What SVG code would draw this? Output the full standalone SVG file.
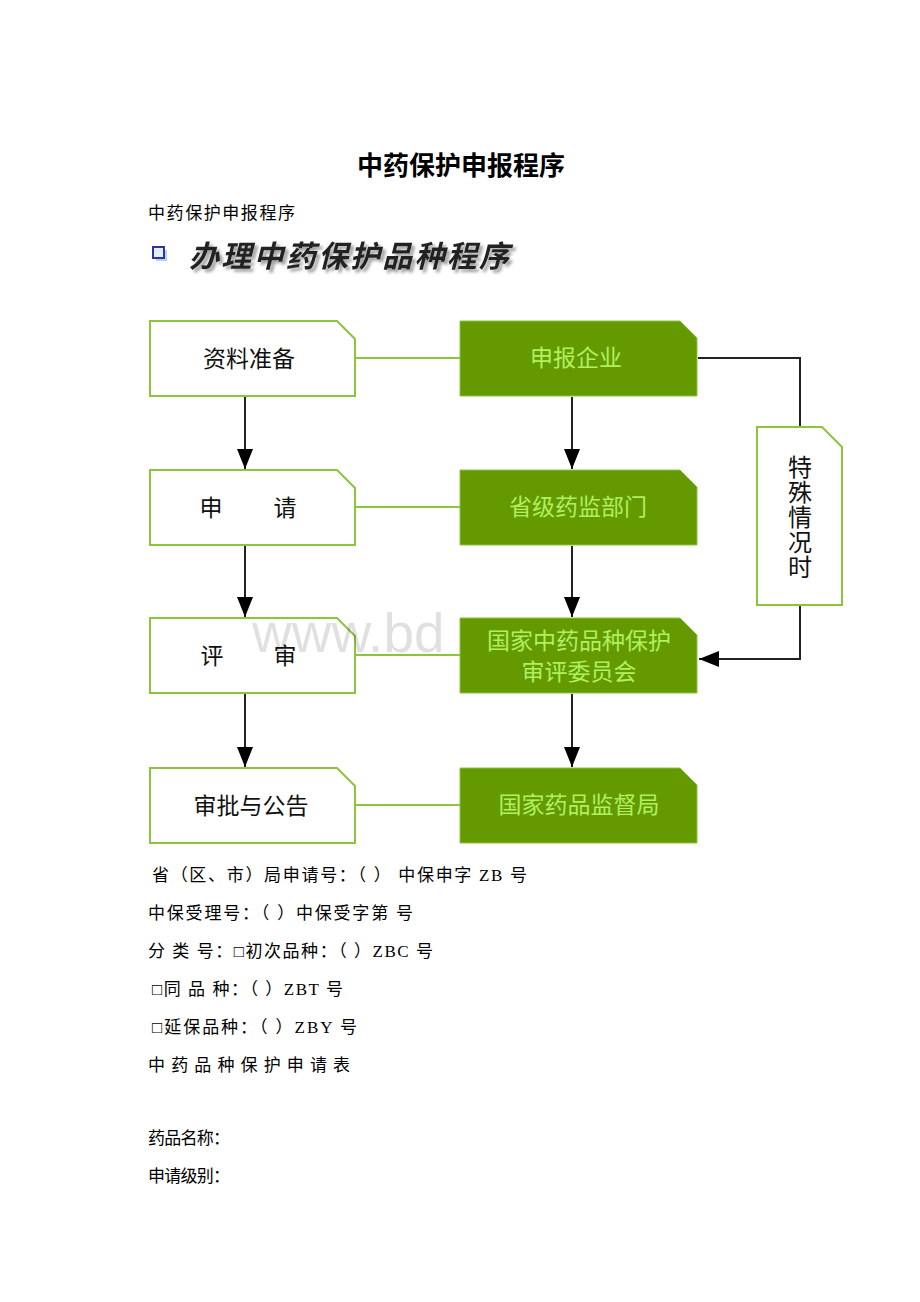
<svg xmlns="http://www.w3.org/2000/svg" width="920" height="1302" viewBox="0 0 920 1302">
<defs>
<style>
.doc{font-family:"Liberation Serif","Noto Sans CJK SC",serif;font-size:17px;fill:#000}
.lbox{fill:#fff;stroke:#8cc43c;stroke-width:2}
.gbox{fill:#649a00;stroke:#8cc43c;stroke-width:1}
.lt{font-family:"Noto Sans CJK SC","Noto Sans CJK JP",sans-serif;font-size:23px;fill:#111;text-anchor:middle}
.gt{font-family:"Noto Sans CJK SC","Noto Sans CJK JP",sans-serif;font-size:23px;fill:#b0f060;text-anchor:middle}
.gl{stroke:#8cc43c;stroke-width:2;fill:none}
.bl{stroke:#222;stroke-width:2;fill:none}
</style>
<marker id="arr" markerUnits="userSpaceOnUse" markerWidth="20" markerHeight="16" refX="20" refY="8" orient="auto">
<path d="M0,0 L20,8 L0,16 Z" fill="#000"/>
</marker>
<filter id="shadow" x="-10%" y="-30%" width="120%" height="170%"><feDropShadow dx="3" dy="3" stdDeviation="1.8" flood-color="#888" flood-opacity="0.8"/></filter>
</defs>
<rect width="920" height="1302" fill="#fff"/>

<g id="title">
<text x="461" y="175" text-anchor="middle" style="font-family:'Noto Sans CJK SC',sans-serif;font-size:26px;font-weight:bold">中药保护申报程序</text>
</g>
<g id="subtitle">
<text x="148" y="219" class="doc" textLength="147">中药保护申报程序</text>
</g>
<g id="heading">
<rect x="156" y="250" width="11" height="11" fill="#a8d8f8"/>
<rect x="153" y="247" width="11" height="11" fill="#dff0ff" stroke="#3a2fa0" stroke-width="2"/>
<text x="189" y="267" filter="url(#shadow)" style="font-family:'Noto Sans CJK SC',sans-serif;font-size:30px;font-style:italic;font-weight:bold;fill:#222" textLength="320">办理中药保护品种程序</text>
</g>

<g id="connectors">
<line class="gl" x1="355" y1="358" x2="460" y2="358"/>
<line class="gl" x1="355" y1="507" x2="460" y2="507"/>
<line class="gl" x1="355" y1="655" x2="460" y2="655"/>
<line class="gl" x1="355" y1="805" x2="460" y2="805"/>
<line class="bl" x1="245" y1="397" x2="245" y2="469" marker-end="url(#arr)"/>
<line class="bl" x1="245" y1="546" x2="245" y2="617" marker-end="url(#arr)"/>
<line class="bl" x1="245" y1="694" x2="245" y2="767" marker-end="url(#arr)"/>
<line class="bl" x1="572" y1="397" x2="572" y2="469" marker-end="url(#arr)"/>
<line class="bl" x1="572" y1="546" x2="572" y2="617" marker-end="url(#arr)"/>
<line class="bl" x1="572" y1="694" x2="572" y2="767" marker-end="url(#arr)"/>
<polyline class="bl" points="698,358 800,358 800,427"/>
<polyline class="bl" points="800,605 800,659 699,659" marker-end="url(#arr)"/>
</g>

<g id="n-ziliao">
<path class="lbox" d="M150,321 H337 L355,339 V396 H150 Z"/>
<text class="lt" x="249" y="367">资料准备</text>
</g>
<g id="n-shenqing">
<path class="lbox" d="M150,470 H337 L355,488 V545 H150 Z"/>
<text class="lt" x="211" y="516">申</text>
<text class="lt" x="285" y="516">请</text>
</g>
<g id="n-pingshen">
<path class="lbox" d="M150,618 H337 L355,636 V693 H150 Z"/>
<text class="lt" x="212" y="664">评</text>
<text class="lt" x="285" y="664">审</text>
</g>
<g id="n-shenpi">
<path class="lbox" d="M150,768 H337 L355,786 V843 H150 Z"/>
<text class="lt" x="251" y="814">审批与公告</text>
</g>

<g id="watermark">
<text x="252" y="652" style="font-family:'Liberation Sans',sans-serif;font-size:55px;fill:#000;fill-opacity:0.12">www.bd</text>
</g>

<g id="n-qiye">
<path class="gbox" d="M460,321 H680 L697,338 V396 H460 Z"/>
<text class="gt" x="576" y="366">申报企业</text>
</g>
<g id="n-shengji">
<path class="gbox" d="M460,470 H680 L697,487 V545 H460 Z"/>
<text class="gt" x="578" y="515">省级药监部门</text>
</g>
<g id="n-weiyuanhui">
<path class="gbox" d="M460,618 H680 L697,635 V693 H460 Z"/>
<text class="gt" x="579" y="649">国家中药品种保护</text>
<text class="gt" x="579" y="680">审评委员会</text>
</g>
<g id="n-jianduju">
<path class="gbox" d="M460,768 H680 L697,785 V843 H460 Z"/>
<text class="gt" x="579" y="813">国家药品监督局</text>
</g>

<g id="n-teshu">
<path class="lbox" d="M757,427 H822 L842,447 V605 H757 Z"/>
<text x="800" y="455" style="font-family:'Noto Sans CJK SC',sans-serif;font-size:24px;fill:#111;writing-mode:vertical-rl;letter-spacing:1px">特殊情况时</text>
</g>

<g id="form-text">
<text class="doc" x="152" y="881" textLength="375" xml:space="preserve">省（区、市）局申请号：（ ） 中保申字 ZB 号</text>
<text class="doc" x="148" y="919" textLength="265" xml:space="preserve">中保受理号：（ ）中保受字第 号</text>
<text class="doc" x="148" y="957" textLength="285" xml:space="preserve">分 类 号：□初次品种：（ ）ZBC 号</text>
<text class="doc" x="152" y="995" textLength="191" xml:space="preserve">□同 品 种：（ ）ZBT 号</text>
<text class="doc" x="152" y="1033" textLength="205" xml:space="preserve">□延保品种：（ ）ZBY 号</text>
<text class="doc" x="148" y="1071" textLength="202" xml:space="preserve">中 药 品 种 保 护 申 请 表</text>
<text class="doc" x="148" y="1144" textLength="82">药品名称：</text>
<text class="doc" x="148" y="1182" textLength="82">申请级别：</text>
</g>
</svg>
